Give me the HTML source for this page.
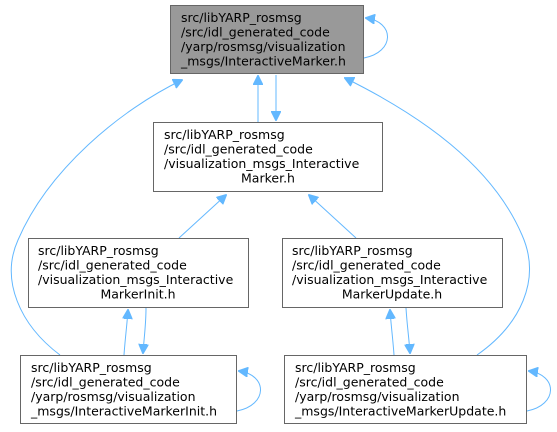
<!DOCTYPE html>
<html><head><style>
html,body{margin:0;padding:0;background:#fff;}
svg{display:block;}
text{font-family:"DejaVu Sans","Liberation Sans",sans-serif;font-size:12.5px;fill:#000;}
</style></head><body>
<svg width="557" height="432" viewBox="0 0 557 432" xmlns="http://www.w3.org/2000/svg">
<defs>
<marker id="a" markerWidth="10" markerHeight="10" refX="9" refY="5" orient="auto" markerUnits="userSpaceOnUse">
<path d="M0,0 L10,5 L0,10 z" fill="#63b8ff" stroke="#63b8ff"/>
</marker>
</defs>
<g fill="none" stroke="#63b8ff" stroke-width="1">
<path d="M364,58 C395,52 395,22 366,18" marker-end="url(#a)"/>
<path d="M258,122 L258,76" marker-end="url(#a)"/>
<path d="M276,75 L276,120" marker-end="url(#a)"/>
<path d="M179,238 L226,195" marker-end="url(#a)"/>
<path d="M356,238 L309,195" marker-end="url(#a)"/>
<path d="M60,355 C20,325 0,280 18,240 C48,170 120,110 182,80" marker-end="url(#a)"/>
<path d="M477,355 C520,325 542,280 522,235 C492,165 420,115 345,78" marker-end="url(#a)"/>
<path d="M124,355 C125,340 127,325 128,310" marker-end="url(#a)"/>
<path d="M146,308 C146,325 144,338 143,353" marker-end="url(#a)"/>
<path d="M394,355 C393,340 391,325 390,310" marker-end="url(#a)"/>
<path d="M406,308 C407,325 409,338 410,353" marker-end="url(#a)"/>
<path d="M237,411 C268,405 268,375 239,371" marker-end="url(#a)"/>
<path d="M527,411 C558,405 558,375 529,371" marker-end="url(#a)"/>
</g>
<g stroke="#666" stroke-width="1">
<rect x="170.5" y="5.5" width="193" height="68" fill="#999"/>
<rect x="153.5" y="122.5" width="229" height="69" fill="#fff"/>
<rect x="28.5" y="238.5" width="220" height="69" fill="#fff"/>
<rect x="282.5" y="238.5" width="220" height="69" fill="#fff"/>
<rect x="20.5" y="355.5" width="216" height="68" fill="#fff"/>
<rect x="284.5" y="355.5" width="242" height="68" fill="#fff"/>
</g>
<text x="181" y="22">src/libYARP_rosmsg</text>
<text x="181" y="36.5">/src/idl_generated_code</text>
<text x="181" y="51">/yarp/rosmsg/visualization</text>
<text x="181" y="65.5">_msgs/InteractiveMarker.h</text>

<text x="164" y="139">src/libYARP_rosmsg</text>
<text x="164" y="153.5">/src/idl_generated_code</text>
<text x="164" y="168">/visualization_msgs_Interactive</text>
<text x="268" y="182.5" text-anchor="middle">Marker.h</text>

<text x="38" y="255">src/libYARP_rosmsg</text>
<text x="38" y="269.5">/src/idl_generated_code</text>
<text x="38" y="284">/visualization_msgs_Interactive</text>
<text x="138" y="298.5" text-anchor="middle">MarkerInit.h</text>

<text x="292" y="255">src/libYARP_rosmsg</text>
<text x="292" y="269.5">/src/idl_generated_code</text>
<text x="292" y="284">/visualization_msgs_Interactive</text>
<text x="392" y="298.5" text-anchor="middle">MarkerUpdate.h</text>

<text x="31" y="372">src/libYARP_rosmsg</text>
<text x="31" y="386.5">/src/idl_generated_code</text>
<text x="31" y="401">/yarp/rosmsg/visualization</text>
<text x="31" y="415.5">_msgs/InteractiveMarkerInit.h</text>

<text x="295" y="372">src/libYARP_rosmsg</text>
<text x="295" y="386.5">/src/idl_generated_code</text>
<text x="295" y="401">/yarp/rosmsg/visualization</text>
<text x="295" y="415.5">_msgs/InteractiveMarkerUpdate.h</text>
</svg>
</body></html>
